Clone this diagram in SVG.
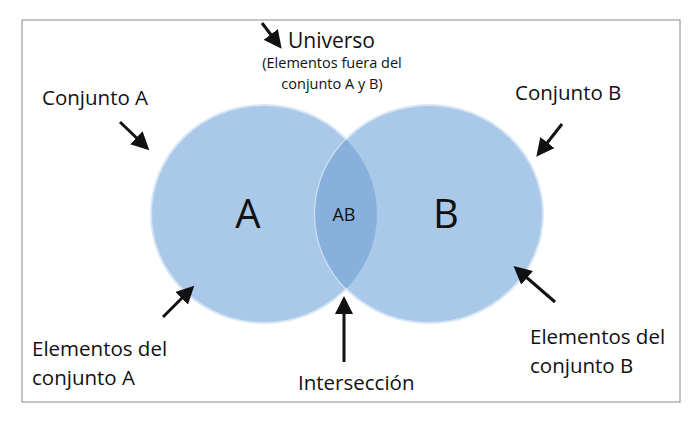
<svg xmlns="http://www.w3.org/2000/svg" width="700" height="421" viewBox="0 0 700 421">
<style>
text{font-family:"Open Sans","Liberation Sans",sans-serif;fill:#111}
.l{font-size:20.5px}
.s{font-size:14.5px}
.c{stroke:#d6e6f5;stroke-width:2}
.a{stroke:#111;stroke-width:3;fill:none;marker-end:url(#ah)}
</style>
<defs>
<marker id="ah" markerWidth="6" markerHeight="6" refX="4" refY="3" orient="auto" markerUnits="strokeWidth"><path d="M0,0 L6,3 L0,6 Z" fill="#111"/></marker>
<clipPath id="cb"><ellipse cx="429" cy="214" rx="114" ry="109"/></clipPath>
</defs>
<rect x="0" y="0" width="700" height="421" fill="#fff"/>
<rect x="22" y="20" width="658" height="382" fill="#fff" stroke="#8a8a8a" stroke-width="1"/>
<g id="circleA"><ellipse class="c" cx="264" cy="214" rx="113" ry="109" fill="#aac9e9"/><text x="248" y="228" font-size="40" text-anchor="middle">A</text></g>
<g id="circleB"><ellipse class="c" cx="429" cy="214" rx="114" ry="109" fill="#aac9e9"/><text x="446" y="228" font-size="40" text-anchor="middle">B</text></g>
<g id="intersection"><ellipse cx="264" cy="214" rx="113" ry="109" fill="#87b1dc" clip-path="url(#cb)"/><text x="344" y="221" font-size="18" text-anchor="middle">AB</text></g>
<g id="labels">
<text x="288" y="48" font-size="21">Universo</text>
<text class="s" x="332" y="68" text-anchor="middle">(Elementos fuera del</text>
<text class="s" x="332" y="89" text-anchor="middle">conjunto A y B)</text>
<text class="l" x="42" y="105">Conjunto A</text>
<text class="l" x="515" y="100">Conjunto B</text>
<text class="l" x="32" y="356">Elementos del</text>
<text class="l" x="32" y="385">conjunto A</text>
<text class="l" x="298" y="390">Intersección</text>
<text class="l" x="530" y="344">Elementos del</text>
<text class="l" x="530" y="373">conjunto B</text>
</g>
<g id="connectors">
<line class="a" x1="262" y1="23" x2="278" y2="44"/>
<line class="a" x1="120" y1="122" x2="145" y2="146"/>
<line class="a" x1="562" y1="124" x2="540" y2="152"/>
<line class="a" x1="163" y1="317" x2="190" y2="290"/>
<line class="a" x1="344" y1="362" x2="344" y2="302"/>
<line class="a" x1="555" y1="302" x2="518" y2="270"/>
</g>
</svg>
